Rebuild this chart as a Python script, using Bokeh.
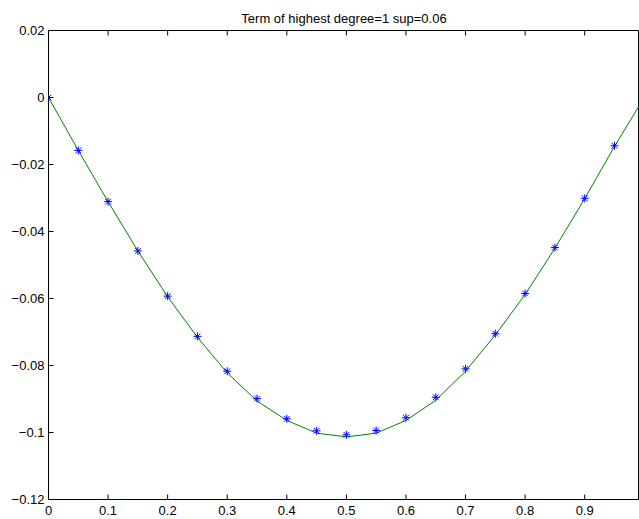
from bokeh.plotting import figure
from bokeh.models import LinearAxis, FixedTicker, CustomJSTickFormatter, Range1d, Title
from bokeh.embed import file_html
from bokeh.resources import INLINE

# Data
star_x = [0.00, 0.05, 0.10, 0.15, 0.20, 0.25, 0.30, 0.35, 0.40, 0.45,
          0.50, 0.55, 0.60, 0.65, 0.70, 0.75, 0.80, 0.85, 0.90, 0.95]
star_y = [0.0, -0.0158, -0.0311, -0.0458, -0.0593, -0.0713, -0.0817, -0.0899, -0.0959, -0.0995,
          -0.1007, -0.0994, -0.0956, -0.0895, -0.0810, -0.0705, -0.0585, -0.0448, -0.0301, -0.0144]
line_x = [0.00, 0.05, 0.10, 0.15, 0.20, 0.25, 0.30, 0.35, 0.40, 0.45, 0.50,
          0.55, 0.60, 0.65, 0.70, 0.75, 0.80, 0.85, 0.90, 0.95, 1.00]
line_y = [0.0, -0.0158, -0.0311, -0.0458, -0.0595, -0.0716, -0.0822, -0.0906, -0.0964, -0.1002, -0.1013,
          -0.1002, -0.0964, -0.0904, -0.0817, -0.0709, -0.0588, -0.0450, -0.0302, -0.0146, 0.0]
x_ticks = [0.0, 0.1, 0.2, 0.3, 0.4, 0.5, 0.6, 0.7, 0.8, 0.9, 1.0]
y_ticks = [-0.12, -0.10, -0.08, -0.06, -0.04, -0.02, 0.0, 0.02]
title_text = "Term of highest degree=1 sup=0.06"

# axes limits (MATLAB box runs 0..1, window shows up to ~0.992)
X_LO, X_HI, X_VIEW = 0.0, 1.0, 0.992
Y_LO, Y_HI = -0.12, 0.02

FONT = "Liberation Sans"
FS = "13px"
W, H = 639, 519
ML, MR, MT, MB = 48, 0, 30, 20

p = figure(width=W, height=H, output_backend="svg", toolbar_location=None,
           x_range=Range1d(X_LO, X_VIEW), y_range=Range1d(Y_LO, Y_HI),
           x_axis_location=None, y_axis_location=None,
           min_border_left=ML, min_border_right=MR, min_border_top=MT, min_border_bottom=MB)
p.title = Title(text=title_text, align="center", text_font=FONT, text_font_size=FS,
                text_font_style="normal", text_color="#000000", offset=3)
p.grid.visible = False
p.outline_line_color = "#000000"
p.outline_line_width = 1
p.background_fill_color = "#ffffff"
p.border_fill_color = "#ffffff"

fmt = CustomJSTickFormatter(code="""
var s = (Math.round(tick*1000)/1000).toString();
return s.replace('-', '\u2212');
""")

def styled(ax):
    ax.axis_line_color = None
    ax.major_tick_line_color = None
    ax.minor_tick_line_color = None
    ax.major_tick_in = 0
    ax.major_tick_out = 0
    ax.major_label_text_font = FONT
    ax.major_label_text_font_size = FS
    ax.major_label_text_color = "#000000"
    ax.formatter = fmt
    return ax

xb = styled(LinearAxis(ticker=FixedTicker(ticks=x_ticks)))
xb.major_label_standoff = 6
p.add_layout(xb, "below")

yl = styled(LinearAxis(ticker=FixedTicker(ticks=y_ticks)))
yl.major_label_standoff = 4
p.add_layout(yl, "left")

# data
p.line(line_x, line_y, line_color="#008000", line_width=1)
p.scatter(star_x, star_y, marker="asterisk", size=8, line_color="#0000ff", line_width=1)

# inward ticks (MATLAB style), drawn as glyphs
frame_w = W - ML - MR
frame_h = H - MT - MB
dx = (X_VIEW - X_LO) / frame_w   # data units per pixel
dy = (Y_HI - Y_LO) / frame_h
TL = 5
nx, ny = len(x_ticks), len(y_ticks)

tick_kw = dict(line_color="#000000", line_width=1)
p.segment(x0=[X_LO] * ny, y0=y_ticks, x1=[X_LO + TL * dx] * ny, y1=y_ticks, **tick_kw)
p.segment(x0=[X_HI] * ny, y0=y_ticks, x1=[X_HI - TL * dx] * ny, y1=y_ticks, **tick_kw)
p.segment(x0=x_ticks, y0=[Y_LO] * nx, x1=x_ticks, y1=[Y_LO + TL * dy] * nx, **tick_kw)
p.segment(x0=x_ticks, y0=[Y_HI] * nx, x1=x_ticks, y1=[Y_HI - TL * dy] * nx, **tick_kw)

open("out.html", "w").write(file_html(p, INLINE))
